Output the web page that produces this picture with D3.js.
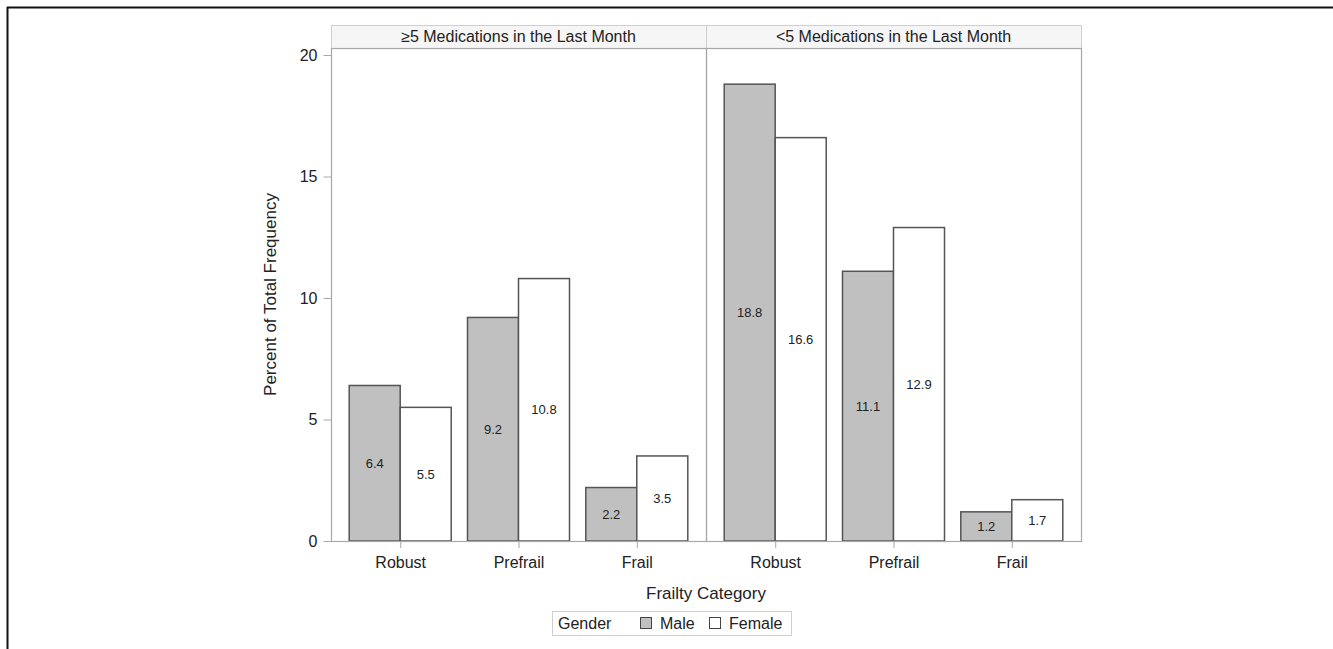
<!DOCTYPE html>
<html><head><meta charset="utf-8">
<script src="https://cdn.jsdelivr.net/npm/d3@7"></script>
<style>body{margin:0;background:#fff}svg{display:block}text{font-family:"Liberation Sans",Arial,sans-serif;fill:#222}</style>
</head><body>
<script>
const panels = ["≥5 Medications in the Last Month", "<5 Medications in the Last Month"];
const categories = ["Robust", "Prefrail", "Frail"];
const genders = ["Male", "Female"];
const maleValues = [[6.4, 9.2, 2.2], [18.8, 11.1, 1.2]];
const femaleValues = [[5.5, 10.8, 3.5], [16.6, 12.9, 1.7]];
const yTicks = [0, 5, 10, 15, 20];

const W = 1333, H = 649;
const svg = d3.select("body").append("svg").attr("width", W).attr("height", H);

// outer frame
svg.append("line").attr("x1", 7).attr("x2", W).attr("y1", 7.5).attr("y2", 7.5).attr("stroke", "#111").attr("stroke-width", 2);
svg.append("line").attr("x1", 7.5).attr("x2", 7.5).attr("y1", 7).attr("y2", H).attr("stroke", "#111").attr("stroke-width", 2);

const plotL = 331, plotR = 1081, headTop = 25, plotTop = 48, plotBot = 541;
const panelW = (plotR - plotL) / 2;
const y = d3.scaleLinear().domain([0, 20]).range([plotBot, 55]);
const gridC = "#a8a8a8";
const maleFill = "#c0c0c0", femaleFill = "#ffffff", barStroke = "#555";

panels.forEach((p, i) => {
  const x0 = plotL + i * panelW;
  const g = svg.append("g");
  // header strip
  g.append("rect").attr("x", x0 + 0.5).attr("y", headTop + 0.5).attr("width", panelW).attr("height", plotTop - headTop)
    .attr("fill", "#f6f6f6").attr("stroke", "#cfcfcf");
  g.append("text").attr("x", x0 + panelW / 2).attr("y", headTop + 17).attr("text-anchor", "middle")
    .attr("font-size", 16).text(p);

  const x = d3.scalePoint().domain(categories).range([x0, x0 + panelW]).padding(0.585);
  const bw = 51;
  const data = categories.map((c, k) => ({c, m: maleValues[i][k], f: femaleValues[i][k]}));

  data.forEach(d => {
    const cx = x(d.c);
    [[d.m, cx - bw, maleFill], [d.f, cx, femaleFill]].forEach(([v, bx, fill]) => {
      g.append("rect").attr("x", bx).attr("y", y(v)).attr("width", bw).attr("height", y(0) - y(v))
        .attr("fill", fill).attr("stroke", barStroke).attr("stroke-width", 1.5);
      g.append("text").attr("x", bx + bw / 2).attr("y", y(v / 2) + 4.5).attr("text-anchor", "middle")
        .attr("font-size", 13).text(v.toFixed(1));
    });
  });

  // x axis ticks and labels
  const xa = g.append("g").attr("transform", `translate(0,${plotBot})`)
    .call(d3.axisBottom(x).tickSize(7).tickPadding(9));
  xa.select(".domain").remove();
  xa.selectAll(".tick line").attr("stroke", gridC);
  xa.selectAll(".tick text").attr("font-size", 16).attr("fill", "#222").attr("font-family", "Liberation Sans, Arial, sans-serif");

  // panel borders
  g.append("rect").attr("x", x0 + 0.5).attr("y", plotTop + 0.5).attr("width", panelW).attr("height", plotBot - plotTop)
    .attr("fill", "none").attr("stroke", gridC).attr("stroke-width", 1.2);
});

// y axis
const ya = svg.append("g").attr("transform", `translate(${plotL + 0.5},0)`)
  .call(d3.axisLeft(y).tickValues(yTicks).tickSize(8).tickPadding(6));
ya.select(".domain").remove();
ya.selectAll(".tick line").attr("stroke", gridC);
ya.selectAll(".tick text").attr("font-size", 16).attr("fill", "#222").attr("font-family", "Liberation Sans, Arial, sans-serif");

svg.append("text").attr("transform", `translate(276,${(plotTop + plotBot) / 2}) rotate(-90)`)
  .attr("text-anchor", "middle").attr("font-size", 17).text("Percent of Total Frequency");
svg.append("text").attr("x", (plotL + plotR) / 2).attr("y", 599).attr("text-anchor", "middle")
  .attr("font-size", 17).text("Frailty Category");

// legend
const lg = svg.append("g");
lg.append("rect").attr("x", 552.5).attr("y", 611.5).attr("width", 239).attr("height", 24)
  .attr("fill", "#fff").attr("stroke", "#cfcfcf");
lg.append("text").attr("x", 558).attr("y", 629).attr("font-size", 16).text("Gender");
const legItems = [{g: genders[0], fill: maleFill, x: 640}, {g: genders[1], fill: femaleFill, x: 709}];
legItems.forEach(it => {
  lg.append("rect").attr("x", it.x + 0.5).attr("y", 617.5).attr("width", 11).attr("height", 11)
    .attr("fill", it.fill).attr("stroke", "#444");
  lg.append("text").attr("x", it.x + 20).attr("y", 629).attr("font-size", 16).text(it.g);
});
</script>
</body></html>
